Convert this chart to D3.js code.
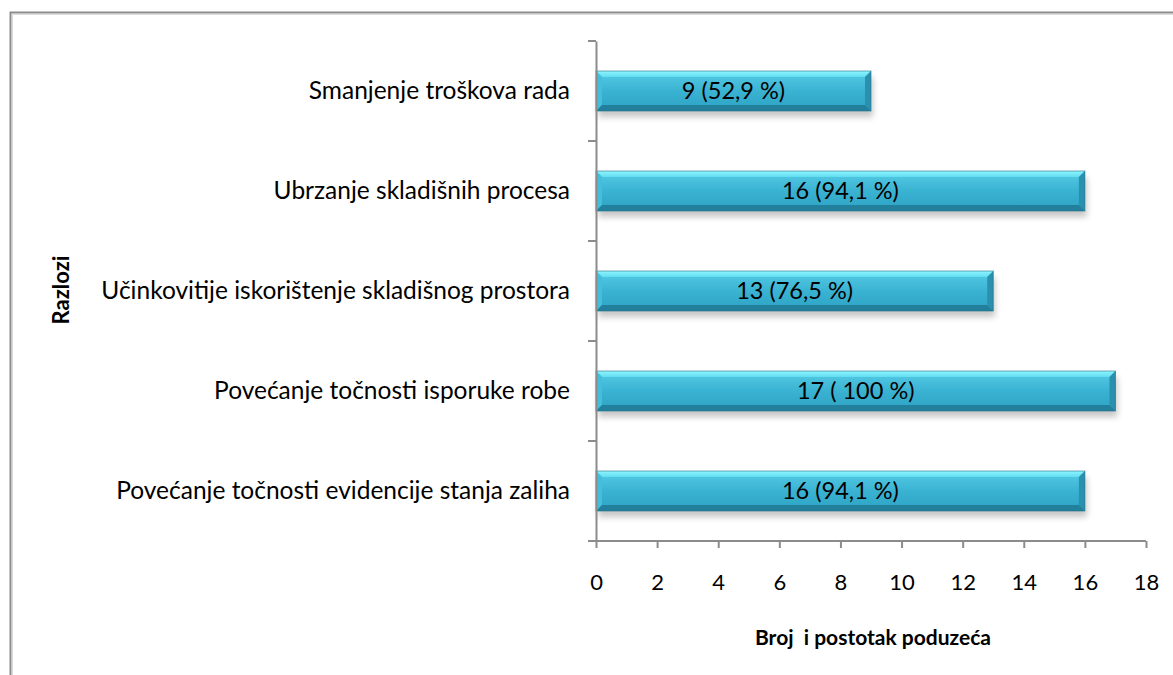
<!DOCTYPE html>
<html><head><meta charset="utf-8">
<script src="https://cdn.jsdelivr.net/npm/d3@7"></script>
<style>body{margin:0;background:#fff}svg{display:block}text{font-family:Lato,"Open Sans",sans-serif}</style>
</head><body>
<svg id="c" width="1173" height="675"></svg>
<script>
const categories = ["Smanjenje troškova rada","Ubrzanje skladišnih procesa","Učinkovitije iskorištenje skladišnog prostora","Povećanje točnosti isporuke robe","Povećanje točnosti evidencije stanja zaliha"];
const values = [9,16,13,17,16];
const barLabels = ["9 (52,9 %)","16 (94,1 %)","13 (76,5 %)","17 ( 100 %)","16 (94,1 %)"];
const xTicks = [0,2,4,6,8,10,12,14,16,18];
const xTitle = "Broj  i postotak poduzeća";
const yTitle = "Razlozi";

const svg = d3.select("#c");
const pLeft = 596, pRight = 1146, pTop = 41, pBottom = 541;
const x = d3.scaleLinear().domain([0,18]).range([pLeft,pRight]);
const y = d3.scaleBand().domain(categories).range([pTop,pBottom]).paddingInner(0.6).paddingOuter(0.3);

// border
svg.append("path").attr("d","M10.5,675 V12.5 H1173").attr("fill","none").attr("stroke","#8c8c8c").attr("stroke-width",2);
svg.append("path").attr("d","M12.5,675 V14.5 H1173").attr("fill","none").attr("stroke","#dcdcdc").attr("stroke-width",1);

const defs = svg.append("defs");
const g1 = defs.append("linearGradient").attr("id","bg").attr("x1",0).attr("y1",0).attr("x2",0).attr("y2",1);
[[0,"#56cde6"],[0.5,"#3ab2d2"],[1,"#2ea3c4"]].forEach(s=>g1.append("stop").attr("offset",s[0]).attr("stop-color",s[1]));
const gt = defs.append("linearGradient").attr("id","tg").attr("x1",0).attr("y1",0).attr("x2",0).attr("y2",1);
[[0,"#8ff6ff"],[1,"#62dcf0"]].forEach(s=>gt.append("stop").attr("offset",s[0]).attr("stop-color",s[1]));
const f = defs.append("filter").attr("id","sh").attr("x","-10%").attr("y","-30%").attr("width","120%").attr("height","180%");
f.append("feGaussianBlur").attr("stdDeviation",3);

// bars
const bars = svg.append("g").selectAll("g").data(categories).join("g");
const bw = y.bandwidth(), bv = 6;
bars.each(function(c,i){
  const g = d3.select(this);
  const x0 = x(0), x1 = x(values[i]), y0 = y(c), y1 = y0 + bw;
  g.append("rect").attr("x",x0+2).attr("y",y0+6).attr("width",x1-x0).attr("height",bw).attr("fill","#000").attr("opacity",0.22).attr("filter","url(#sh)");
  g.append("rect").attr("x",x0).attr("y",y0).attr("width",x1-x0).attr("height",bw).attr("fill","url(#bg)");
  g.append("path").attr("d",`M${x0},${y0}H${x1}L${x1-bv},${y0+bv}H${x0+bv}Z`).attr("fill","url(#tg)");
  g.append("path").attr("d",`M${x0},${y0}L${x0+bv},${y0+bv}V${y1-bv}L${x0},${y1}Z`).attr("fill","#45bedb");
  g.append("path").attr("d",`M${x1},${y0}L${x1-bv},${y0+bv}V${y1-bv}L${x1},${y1}Z`).attr("fill","#2b90ad");
  g.append("path").attr("d",`M${x0},${y1}L${x0+bv},${y1-bv}H${x1-bv}L${x1},${y1}Z`).attr("fill","#23809c");
  g.append("rect").attr("x",x0).attr("y",y0).attr("width",x1-x0).attr("height",bw).attr("fill","none").attr("stroke","#1f6f88").attr("stroke-width",1).attr("opacity",0.6);
  g.append("text").attr("x",(x0+x1)/2).attr("y",y0+bw/2).attr("dy","0.36em").attr("text-anchor","middle")
    .attr("font-size",23.5).attr("fill","#000").style("white-space","pre").text(barLabels[i]);
});

// axes
const ax = svg.append("g").attr("transform",`translate(0,${pBottom})`).call(d3.axisBottom(x).tickValues(xTicks).tickSize(7).tickPadding(26).tickFormat(d3.format("d")));
const ay = svg.append("g").attr("transform",`translate(${pLeft},0)`).call(d3.axisLeft(y).tickSize(0).tickPadding(26));
[ax,ay].forEach(a=>{a.select(".domain").attr("stroke","#8c8c8c").attr("stroke-width",2);a.selectAll(".tick line").attr("stroke","#8c8c8c").attr("stroke-width",2);a.selectAll("text").attr("font-family","Lato,sans-serif").attr("fill","#000");});
ax.selectAll("text").attr("font-size",22);
ay.selectAll("text").attr("font-size",24.5);
ax.select(".domain").attr("d",`M${pLeft-8},0H${pRight}`);
const bounds = d3.range(categories.length+1).map(i=>pTop + i*(pBottom-pTop)/categories.length);
svg.append("g").selectAll("line").data(bounds).join("line").attr("x1",pLeft-8).attr("x2",pLeft).attr("y1",d=>d).attr("y2",d=>d).attr("stroke","#8c8c8c").attr("stroke-width",2);

svg.append("text").attr("x",873).attr("y",645).attr("text-anchor","middle").attr("font-weight","bold").attr("font-size",21).style("white-space","pre").text(xTitle);
svg.append("text").attr("transform","translate(69,290) rotate(-90)").attr("text-anchor","middle").attr("font-weight","bold").attr("font-size",22).text(yTitle);
</script>
</body></html>
